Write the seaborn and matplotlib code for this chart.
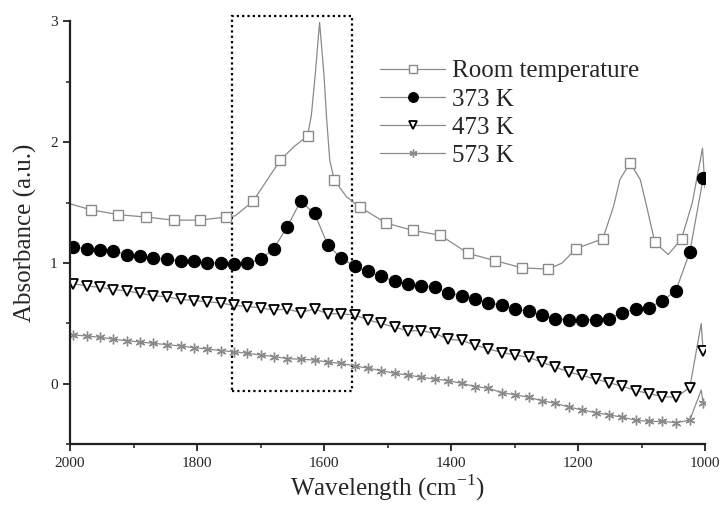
import pandas as pd
import matplotlib
matplotlib.use('Agg')
import matplotlib.pyplot as plt
import seaborn as sns
from matplotlib.patches import Rectangle
from matplotlib.ticker import MultipleLocator


# Room temperature: symbols every ~42 cm-1, plus extra line points for the sharp bands
rt_x = [1967, 1924, 1880, 1837, 1795, 1755, 1712, 1669, 1626, 1584, 1543, 1502,
        1460, 1417, 1373, 1331, 1288, 1247, 1203, 1161, 1118, 1079, 1037]
rt_y = [1.44, 1.40, 1.38, 1.355, 1.355, 1.38, 1.51, 1.85, 2.05, 1.69, 1.46, 1.33,
        1.27, 1.23, 1.08, 1.02, 0.96, 0.95, 1.12, 1.20, 1.83, 1.17, 1.20]
rt_line_x = [2000, 1945, 1740, 1648, 1620, 1614, 1607, 1600, 1596, 1591, 1565,
             1225, 1144, 1134, 1102, 1092, 1058, 1020, 1004, 1000]
rt_line_y = [1.49, 1.42, 1.39, 1.96, 2.22, 2.55, 2.99, 2.55, 2.20, 1.85, 1.55,
             1.00, 1.47, 1.69, 1.69, 1.47, 1.07, 1.50, 1.95, 1.62]

# 373 K / 473 K / 573 K: one symbol every ~21 cm-1
grid_x = [1995, 1974, 1953, 1932, 1911, 1890, 1869, 1847, 1826, 1805, 1784, 1763,
          1742, 1721, 1700, 1679, 1658, 1637, 1615, 1594, 1573, 1552, 1531, 1510,
          1489, 1468, 1447, 1426, 1405, 1383, 1362, 1341, 1320, 1299, 1278, 1257,
          1236, 1215, 1194, 1172, 1151, 1130, 1109, 1088, 1067, 1046, 1024, 1003]
k373_y = [1.13, 1.12, 1.11, 1.10, 1.07, 1.06, 1.04, 1.03, 1.02, 1.02, 1.00, 1.00,
          0.99, 1.00, 1.03, 1.12, 1.30, 1.51, 1.41, 1.15, 1.04, 0.975, 0.93, 0.89,
          0.85, 0.826, 0.81, 0.80, 0.755, 0.73, 0.70, 0.67, 0.65, 0.62, 0.60, 0.57,
          0.54, 0.53, 0.53, 0.53, 0.54, 0.59, 0.62, 0.63, 0.69, 0.77, 1.09, 1.70]
k473_y = [0.83, 0.81, 0.80, 0.78, 0.77, 0.75, 0.73, 0.72, 0.70, 0.69, 0.68, 0.67,
          0.65, 0.64, 0.63, 0.61, 0.62, 0.59, 0.62, 0.58, 0.58, 0.57, 0.53, 0.50,
          0.47, 0.44, 0.44, 0.42, 0.37, 0.36, 0.32, 0.29, 0.26, 0.24, 0.22, 0.18,
          0.14, 0.10, 0.07, 0.04, 0.01, -0.02, -0.055, -0.08, -0.105, -0.11, -0.03, 0.27]
k573_y = [0.405, 0.397, 0.386, 0.37, 0.358, 0.347, 0.336, 0.325, 0.314, 0.30, 0.29, 0.275,
          0.267, 0.253, 0.24, 0.226, 0.21, 0.204, 0.198, 0.18, 0.17, 0.15, 0.13, 0.11,
          0.088, 0.074, 0.055, 0.041, 0.028, 0.005, -0.022, -0.036, -0.072, -0.09, -0.11, -0.138,
          -0.16, -0.19, -0.215, -0.237, -0.256, -0.275, -0.30, -0.31, -0.31, -0.32, -0.30, -0.16]
# narrow band near 1005 cm-1 between the last two symbols
k473_line_x, k473_line_y = [1006], [0.50]
k573_line_x, k573_line_y = [1006], [-0.05]

labels = ['Room temperature', '373 K', '473 K', '573 K']

# dotted frame around the 1600 cm-1 region
box_x = [1745, 1556]
box_y = [-0.06, 3.04]


def make_frame(mx, my, lx=(), ly=()):
    df = pd.DataFrame({'x': list(mx) + list(lx),
                       'y': list(my) + list(ly),
                       'symbol': [True] * len(mx) + [False] * len(lx)})
    return df.sort_values('x', ascending=False).reset_index(drop=True)


sns.set_style('ticks')
plt.rcParams['font.family'] = ['Liberation Serif', 'DejaVu Serif']
plt.rcParams['mathtext.fontset'] = 'custom'
plt.rcParams['mathtext.rm'] = 'Liberation Serif'

fig = plt.figure(figsize=(7.22, 5.05), dpi=100)
ax = fig.add_axes([0.097, 0.12, 0.8795, 0.838])

line_gray = '#8a8a8a'
frames = [make_frame(rt_x, rt_y, rt_line_x, rt_line_y),
          make_frame(grid_x, k373_y),
          make_frame(grid_x, k473_y, k473_line_x, k473_line_y),
          make_frame(grid_x, k573_y, k573_line_x, k573_line_y)]
marker_styles = [dict(marker='s', ms=7.8, mfc='white', mec='#8a8a8a', mew=1.0),
                 dict(marker='o', ms=8.8, mfc='black', mec='black', mew=0.8),
                 dict(marker='v', ms=7.3, mfc='white', mec='black', mew=1.3),
                 dict(marker=(6, 2, 0), ms=7, mfc='none', mec='#8a8a8a', mew=1.0)]

for df, lab, mk in zip(frames, labels, marker_styles):
    sns.lineplot(data=df, x='x', y='y', ax=ax, sort=False, estimator=None,
                 color=line_gray, lw=0.9, markevery=df['symbol'].tolist(),
                 label=lab, **mk)

ax.add_patch(Rectangle((box_x[0], box_y[0]), box_x[1] - box_x[0], box_y[1] - box_y[0],
                       fill=False, ec='black', lw=1.6, ls=(0, (1, 1.4)), clip_on=False))

ax.set_xlim(2000, 1000)
ax.set_ylim(-0.5, 3)
ax.xaxis.set_major_locator(MultipleLocator(200))
ax.xaxis.set_minor_locator(MultipleLocator(100))
ax.yaxis.set_major_locator(MultipleLocator(1))
ax.yaxis.set_minor_locator(MultipleLocator(0.5))
ax.tick_params(which='major', length=5, width=1.3, direction='out', labelsize=11,
               pad=4, color='#222222')
ax.tick_params(which='minor', length=3, width=1.1, direction='out', color='#222222')
sns.despine(ax=ax)
for s in ['left', 'bottom']:
    ax.spines[s].set_linewidth(1.6)
    ax.spines[s].set_color('#222222')

ax.set_xlabel('Wavelength (cm$^{-1}$)', fontsize=18, labelpad=2)
ax.set_ylabel('Absorbance (a.u.)', fontsize=18)
ax.yaxis.set_label_coords(-0.052, 0.5)

ax.legend(loc='upper left', bbox_to_anchor=(380 / 722, 1 - 60 / 505),
          bbox_transform=fig.transFigure, frameon=False, fontsize=18,
          handlelength=2.6, handletextpad=0.3, labelspacing=0.22,
          borderpad=0, borderaxespad=0, markerscale=0.8)

plt.savefig('out.png', dpi=100)
